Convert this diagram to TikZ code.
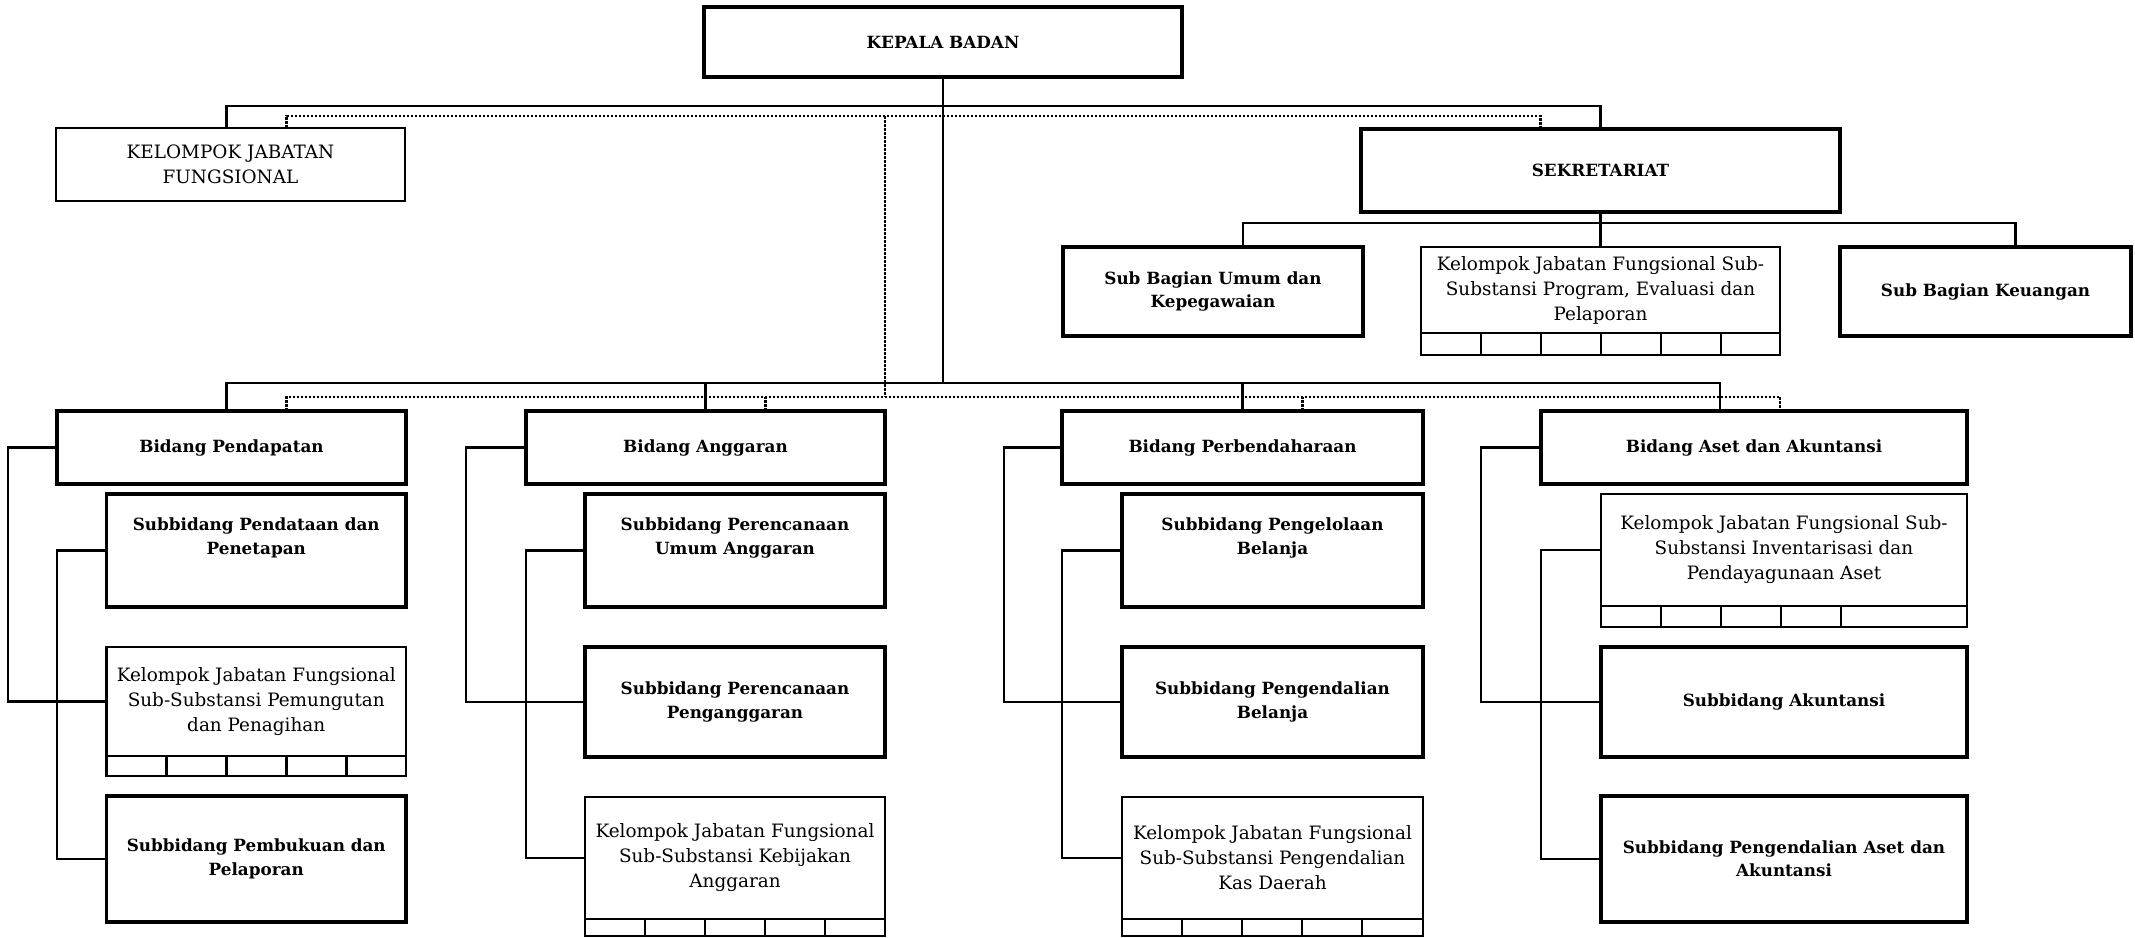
\documentclass[tikz,border=0pt]{standalone}
\usepackage{fontspec}
\setmainfont{DejaVu Serif}
\usetikzlibrary{
    calc,
    positioning
}
\tikzset{
  basic/.style = {
      draw,
      rectangle,
      align=center,
      inner sep=2pt,
      outer sep=0pt
  },
  unit/.style = {
      basic,
      line width=1.8pt,
      font=\fontsize{8.4}{11.7}\selectfont\bfseries
  },
  group/.style = {
      basic,
      line width=1.2pt,
      font=\fontsize{9.2}{12.5}\selectfont
  },
  wh/.style 2 args = {
      minimum width=#1*0.5pt,
      minimum height=#2*0.5pt
  },
  raised/.style = {
      text depth=14.5pt
  },
  link/.style = {
      line width=1.2pt
  },
  staff/.style = {
      line width=1.4pt,
      dash pattern=on 1.4pt off 0.6pt
  }
}
% small cells under a functional group box: node, dividers, height
\newcommand{\cellrow}[3]{%
  \draw[link] (#1.south west) rectangle ($(#1.south east)+(0,#3)$);
  \foreach \k in {1,...,#2}
    \draw[link] ($(#1.south west)+(60*\k,0)$) -- ++(0,#3);
}

\begin{document}
\begin{tikzpicture}[x=0.5pt, y=-0.5pt]
    \useasboundingbox (0,0) rectangle (2135,937);
    % Nodes
    \node[unit, wh={478}{70}] (kepala) at (943,42) {KEPALA BADAN};
    \node[group, wh={349}{73}] (kjf) at (230.5,164.5) {KELOMPOK JABATAN\\FUNGSIONAL};
    \node[unit, wh={479}{83}] (sek) at (1600.5,170.5) {SEKRETARIAT};
    \node[unit, wh={300}{89}] (umum) at (1213,291.5) {Sub Bagian Umum dan\\Kepegawaian};
    \node[group, wh={359}{86}] (kprog) at (1600.5,290) {Kelompok Jabatan Fungsional Sub-\\Substansi Program, Evaluasi dan\\Pelaporan};
    \node[unit, wh={291}{89}] (keu) at (1985.5,291.5) {Sub Bagian Keuangan};

    \node[unit, wh={349}{73}] (bpend) at (231.5,447.5) {Bidang Pendapatan};
    \node[unit, wh={359}{73}] (bangg) at (705.5,447.5) {Bidang Anggaran};
    \node[unit, wh={361}{73}] (bperb) at (1242.5,447.5) {Bidang Perbendaharaan};
    \node[unit, wh={426}{73}] (baset) at (1754,447.5) {Bidang Aset dan Akuntansi};

    \node[unit, raised, wh={299.5}{113}] (spend) at (256.25,550.5) {Subbidang Pendataan dan\\Penetapan};
    \node[group, wh={299.5}{109}] (kpungut) at (256.25,701.5) {Kelompok Jabatan Fungsional\\Sub-Substansi Pemungutan\\dan Penagihan};
    \node[unit, wh={299.5}{126}] (sbuku) at (256.25,859) {Subbidang Pembukuan dan\\Pelaporan};

    \node[unit, raised, wh={300}{113}] (sumum) at (735,550.5) {Subbidang Perencanaan\\Umum Anggaran};
    \node[unit, wh={300}{110}] (spengg) at (735,702) {Subbidang Perencanaan\\Penganggaran};
    \node[group, wh={300}{122}] (kbijak) at (735,858) {Kelompok Jabatan Fungsional\\Sub-Substansi Kebijakan\\Anggaran};

    \node[unit, raised, wh={301}{113}] (skelola) at (1272.5,550.5) {Subbidang Pengelolaan\\Belanja};
    \node[unit, wh={301}{110}] (skendali) at (1272.5,702) {Subbidang Pengendalian\\Belanja};
    \node[group, wh={301}{122}] (kkas) at (1272.5,858) {Kelompok Jabatan Fungsional\\Sub-Substansi Pengendalian\\Kas Daerah};

    \node[group, wh={366}{112}] (kinvent) at (1784,550) {Kelompok Jabatan Fungsional Sub-\\Substansi Inventarisasi dan\\Pendayagunaan Aset};
    \node[unit, wh={366}{110}] (sakun) at (1784,702) {Subbidang Akuntansi};
    \node[unit, wh={366}{126}] (skaset) at (1784,859) {Subbidang Pengendalian Aset dan\\Akuntansi};

    \cellrow{kprog}{5}{22}
    \cellrow{kpungut}{4}{20}
    \cellrow{kbijak}{4}{17}
    \cellrow{kkas}{4}{17}
    \cellrow{kinvent}{4}{21}

    % Edges
    \draw[link] ([xshift=-2pt]kjf.north) -- ++(0,-22) -| (sek.north);
    \draw[staff] ([xshift=28pt]kjf.north) -- ++(0,-12) coordinate (dl) -| ([xshift=-30pt]sek.north);

    \draw[link] ([xshift=-2.5pt]bpend.north) -- ++(0,-28) coordinate (bus) -| ([xshift=-17pt]baset.north);
    \draw[link] (bangg.north) -- (bangg.north |- bus);
    \draw[link] (bperb.north) -- (bperb.north |- bus);
    \draw[link] (kepala.south) -- (kepala.south |- bus);

    \draw[staff] ([xshift=27.5pt]bpend.north) -- ++(0,-14) coordinate (dbus) -| ([xshift=13pt]baset.north);
    \draw[staff] ([xshift=30pt]bangg.north) -- ([xshift=30pt]bangg.north |- dbus);
    \draw[staff] ([xshift=30pt]bperb.north) -- ([xshift=30pt]bperb.north |- dbus);
    \draw[staff] (dl -| bangg.east) -- (dbus -| bangg.east);

    \draw[link] (sek.south) -- (kprog.north);
    \draw[link] ([xshift=15pt]umum.north) -- ++(0,-24) -| ([xshift=15pt]keu.north);

    \foreach \b/\p/\q/\r/\d in {bpend/spend/kpungut/sbuku/24.5,
                                bangg/sumum/spengg/kbijak/30,
                                bperb/skelola/skendali/kkas/29,
                                baset/kinvent/sakun/skaset/30} {
      \draw[link] (\b.west) -- ++(-\d pt,0) |- (\q.west);
      \draw[link] (\p.west) -- (\p.west -| \b.west) |- (\r.west);
    }
\end{tikzpicture}
\end{document}
